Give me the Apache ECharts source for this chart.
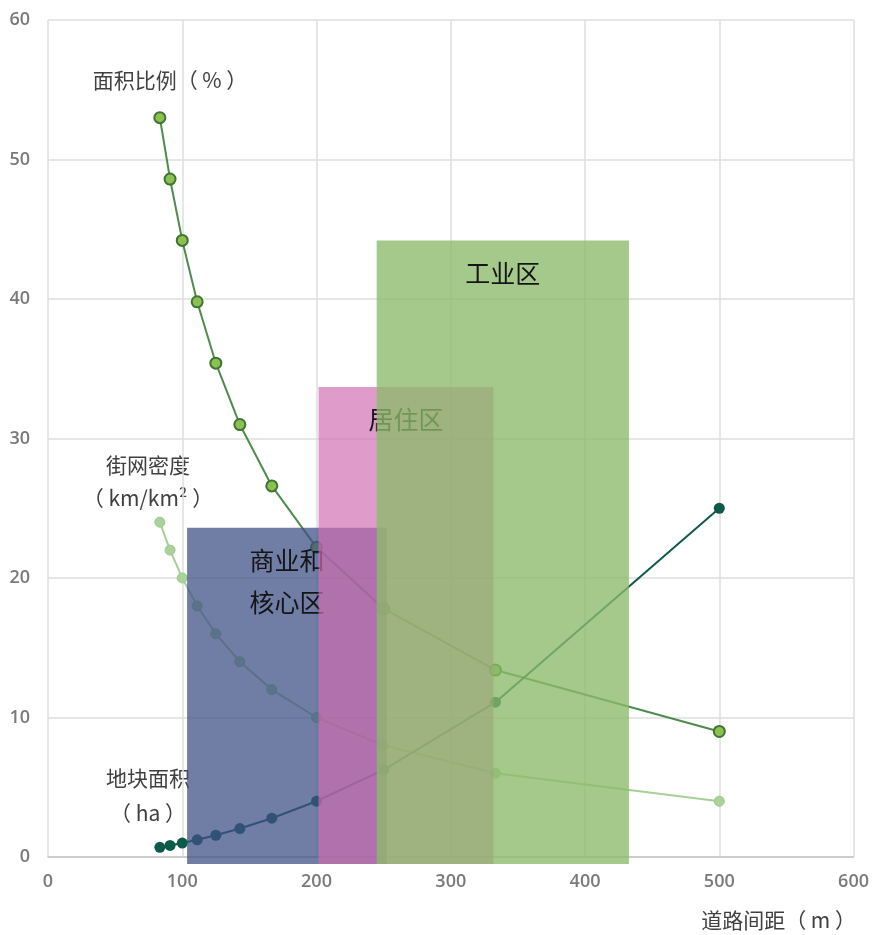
<!DOCTYPE html>
<html>
<head>
<meta charset="utf-8">
<script src="https://cdn.jsdelivr.net/npm/echarts@6/dist/echarts.min.js"></script>
<style>
  html, body { margin: 0; padding: 0; background: #fff; }
  #chart { width: 872px; height: 935px; }
</style>
</head>
<body>
<div id="chart"></div>
<script>
// Road spacing (m) for each sample
const spacing = [83.3, 90.9, 100, 111.1, 125, 142.9, 166.7, 200, 250, 333.3, 500];
// 面积比例 (%)
const areaRatio = [53, 48.6, 44.2, 39.8, 35.4, 31, 26.6, 22.2, 17.8, 13.4, 9];
// 街网密度 (km/km²)
const netDensity = [24, 22, 20, 18, 16, 14, 12, 10, 8, 6, 4];
// 地块面积 (ha)
const blockArea = [0.69, 0.83, 1.0, 1.23, 1.56, 2.04, 2.78, 4.0, 6.25, 11.1, 25];

// Zones: spacing range and height
const zoneNames = ['商业和\n核心区', '居住区', '工业区'];
const zoneStart = [103.6, 201.5, 244.8];
const zoneEnd = [252.3, 331.8, 432.7];
const zoneTop = [23.6, 33.7, 44.2];

const xTicks = [0, 100, 200, 300, 400, 500, 600];
const yTicks = [0, 10, 20, 30, 40, 50, 60];

const zoneColors = ['rgba(62,80,132,0.74)', 'rgba(208,108,176,0.68)', 'rgba(140,186,106,0.78)'];
const cjk = '"Noto Sans CJK SC", "Noto Sans", sans-serif';
const tickFont = { color: '#7a7a7a', fontSize: 18, fontWeight: 600, fontFamily: '"Open Sans", sans-serif' };

const pairs = (ys) => spacing.map((x, i) => [x, ys[i]]);

const chart = echarts.init(document.getElementById('chart'));
chart.setOption({
  animation: false,
  backgroundColor: '#fff',
  grid: { left: 48, right: 17, top: 20, bottom: 78 },
  xAxis: {
    type: 'value', min: xTicks[0], max: xTicks[xTicks.length - 1], interval: 100,
    axisLine: { show: true, lineStyle: { color: '#c4c4c4', width: 1.5 } },
    axisTick: { show: false },
    splitLine: { show: true, lineStyle: { color: '#dedede', width: 1.5 } },
    axisLabel: Object.assign({ margin: 16 }, tickFont)
  },
  yAxis: {
    type: 'value', min: yTicks[0], max: yTicks[yTicks.length - 1], interval: 10,
    axisLine: { show: false },
    axisTick: { show: false },
    splitLine: { show: true, lineStyle: { color: '#dedede', width: 1.5 } },
    axisLabel: Object.assign({ margin: 18 }, tickFont)
  },
  series: [
    {
      name: '街网密度', type: 'line', data: pairs(netDensity), z: 2,
      symbol: 'circle', symbolSize: 10,
      lineStyle: { color: '#a6d196', width: 2 },
      itemStyle: { color: '#a9d39a', borderColor: '#9cc98c', borderWidth: 1 }
    },
    {
      name: '面积比例', type: 'line', data: pairs(areaRatio), z: 3,
      symbol: 'circle', symbolSize: 11,
      lineStyle: { color: '#4d8c4a', width: 2 },
      itemStyle: { color: '#8cc152', borderColor: '#3f7432', borderWidth: 2 }
    },
    {
      name: '地块面积', type: 'line', data: pairs(blockArea), z: 4,
      symbol: 'circle', symbolSize: 11,
      lineStyle: { color: '#0f5a4c', width: 2 },
      itemStyle: { color: '#0d5a4a' }
    },
    {
      name: '功能区', type: 'custom', z: 10,
      data: zoneNames.map((n, i) => [zoneStart[i], zoneEnd[i], zoneTop[i], i]),
      renderItem: function (params, api) {
        const i = api.value(3);
        const tl = api.coord([api.value(0), api.value(2)]);
        const br = api.coord([api.value(1), 0]);
        return {
          type: 'group',
          children: [
            {
              type: 'rect',
              shape: { x: tl[0], y: tl[1], width: br[0] - tl[0], height: br[1] - tl[1] + 7 },
              style: { fill: zoneColors[i] }
            },
            {
              type: 'text',
              x: (tl[0] + br[0]) / 2, y: tl[1] + 12,
              style: {
                text: zoneNames[i], textAlign: 'center', textVerticalAlign: 'top',
                font: '25px ' + cjk, fill: '#151515', lineHeight: 42
              }
            }
          ]
        };
      }
    }
  ],
  graphic: [
    { type: 'text', x: 170, y: 80, style: { text: '面积比例（ % ）', font: '21px ' + cjk, fill: '#404040', textAlign: 'center', textVerticalAlign: 'middle' } },
    { type: 'text', x: 148, y: 465, style: { text: '街网密度', font: '21px ' + cjk, fill: '#404040', textAlign: 'center', textVerticalAlign: 'middle' } },
    { type: 'text', x: 148, y: 498, style: { text: '（ km/km² ）', font: '21px ' + cjk, fill: '#404040', textAlign: 'center', textVerticalAlign: 'middle' } },
    { type: 'text', x: 148, y: 778, style: { text: '地块面积', font: '21px ' + cjk, fill: '#404040', textAlign: 'center', textVerticalAlign: 'middle' } },
    { type: 'text', x: 148, y: 813, style: { text: '（ ha ）', font: '21px ' + cjk, fill: '#404040', textAlign: 'center', textVerticalAlign: 'middle' } },
    { type: 'text', x: 856, y: 920, style: { text: '道路间距（ m ）', font: '21px ' + cjk, fill: '#404040', textAlign: 'right', textVerticalAlign: 'middle' } }
  ]
});
</script>
</body>
</html>
